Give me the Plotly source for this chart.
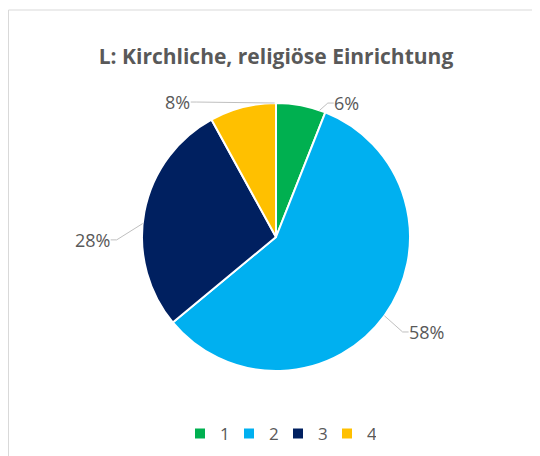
import math
import plotly.graph_objects as go

categories = ["1", "2", "3", "4"]
values = [6, 58, 28, 8]
colors = ["#00B050", "#00B0F0", "#002060", "#FFC000"]
title_text = "L: Kirchliche, religiöse Einrichtung"

W, H = 540, 456
# pie geometry in figure pixels
CX, CY, R = 268, 229, 134
# label placement style: (angle shift in degrees, radius factor, leader anchor fraction within slice)
label_style = [(17.0, 1.13, 0.88), (-3.8, 1.33, 0.5), (-11.7, 1.37, 0.45), (-21.6, 1.245, 0.98)]
LABEL_SIZE = 18
LINE_COLOR = "#BFBFBF"


def px(x):
    return x / W


def py(y):
    return 1 - y / H


total = sum(values)
annotations = []
shapes = []
cum = 0.0
for v, (dshift, kf, frac) in zip(values, label_style):
    start = cum / total * 360
    span = v / total * 360
    theta = start + span / 2
    cum += v
    ta = math.radians(start + span * frac)
    ex, ey = CX + R * math.sin(ta), CY - R * math.cos(ta)
    tl = math.radians(theta + dshift)
    lx, ly = CX + kf * R * math.sin(tl), CY - kf * R * math.cos(tl)
    txt = f"{round(v / total * 100)}%"
    annotations.append(dict(x=px(lx), y=py(ly), xref="paper", yref="paper",
                            text=txt, showarrow=False, xanchor="center", yanchor="middle",
                            font=dict(family="Open Sans", size=LABEL_SIZE, color="#595959")))
    half = len(txt) * 0.3 * LABEL_SIZE
    sx = lx + half + 2 if ex > lx else lx - half - 2
    mx = sx + (6 if ex > sx else -6)
    shapes.append(dict(type="line", xref="paper", yref="paper",
                       x0=px(sx), y0=py(ly), x1=px(mx), y1=py(ly),
                       line=dict(color=LINE_COLOR, width=1)))
    shapes.append(dict(type="line", xref="paper", yref="paper",
                       x0=px(mx), y0=py(ly), x1=px(ex), y1=py(ey),
                       line=dict(color=LINE_COLOR, width=1)))

shapes.append(dict(type="rect", xref="paper", yref="paper",
                   x0=px(0.5), x1=px(529), y0=-0.05, y1=py(2),
                   line=dict(color="#D9D9D9", width=1), fillcolor="rgba(0,0,0,0)"))

fig = go.Figure(go.Pie(
    labels=categories,
    values=values,
    sort=False,
    direction="clockwise",
    rotation=0,
    marker=dict(colors=colors, line=dict(color="white", width=2)),
    textinfo="none",
    domain=dict(x=[px(CX - R), px(CX + R)], y=[py(CY + R), py(CY - R)]),
    showlegend=True,
    hoverinfo="label+percent",
))

fig.update_layout(
    width=W, height=H,
    margin=dict(l=0, r=0, t=0, b=0),
    paper_bgcolor="white",
    title=dict(text="<b>" + title_text + "</b>", x=px(268), xanchor="center",
               y=py(49), yanchor="middle",
               font=dict(family="Open Sans", size=21, color="#595959")),
    legend=dict(orientation="h", x=px(270), xanchor="center", y=py(426), yanchor="middle",
                font=dict(family="Open Sans", size=17, color="#595959"),
                traceorder="normal", entrywidth=4, itemwidth=30),
    annotations=annotations,
    shapes=shapes,
)

fig.write_html("out.html")
